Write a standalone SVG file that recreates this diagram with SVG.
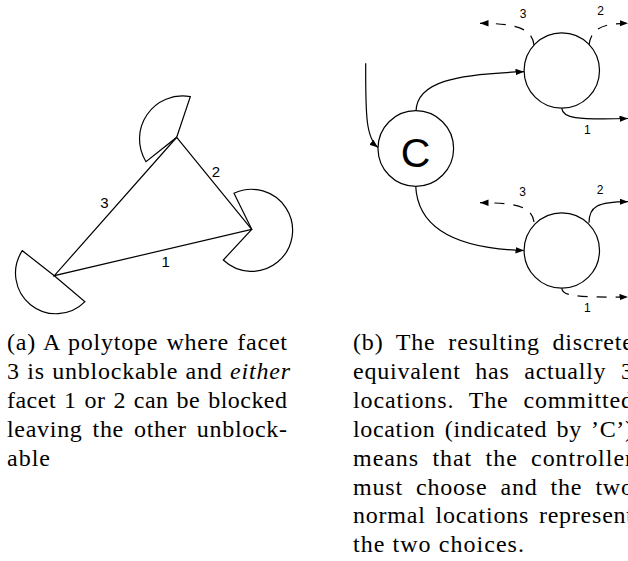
<svg xmlns="http://www.w3.org/2000/svg" width="628" height="561" viewBox="0 0 628 561">
<style>
.ln{fill:none;stroke:#000;stroke-width:1.2}
.wedge{fill:#fff;stroke:#000;stroke-width:1.2}
.node{fill:#fff;stroke:#000;stroke-width:1.2}
.dash{stroke-dasharray:10 9}
.lbl{font-family:"Liberation Sans",Arial,sans-serif;fill:#000;text-anchor:middle}
.cap{font-family:"Liberation Serif","Times New Roman",serif;font-size:24px;fill:#000}
</style>
<defs>
<marker id="arr" markerWidth="9" markerHeight="7" refX="8.5" refY="3.2" orient="auto" markerUnits="userSpaceOnUse">
<path d="M0,0 L8.5,3.2 L0,6.4 z" fill="#000" stroke="none"/>
</marker>
</defs>

<g id="polytope">
<g id="wedge-top"><path class="wedge" d="M176.7,137.3 L190.3,96.7 A43 43 0 0 0 146,161.7 Z"/></g>
<g id="wedge-right"><path class="wedge" d="M251.7,229.3 L234,193.3 A41 41 0 1 1 223.3,260 Z"/></g>
<g id="wedge-left"><path class="wedge" d="M54.3,275.7 L22.3,250.7 A40.6 40.6 0 0 0 85,301.7 Z"/></g>
<g id="facets">
<path class="ln" d="M176.7,137.3 L251.7,229.3 L54.3,275.7 Z"/>
<text class="lbl" x="216" y="177" font-size="15">2</text>
<text class="lbl" x="104.3" y="208" font-size="15">3</text>
<text class="lbl" x="165.7" y="267" font-size="15">1</text>
</g>
</g>

<g id="connectors">
<path class="ln" marker-end="url(#arr)" d="M365.7,63.3 C365.5,115 366,138 378,147.5"/>
<path class="ln" marker-end="url(#arr)" d="M416,111 C417,82 455,74 524,71.7"/>
<path class="ln" marker-end="url(#arr)" d="M415.7,186 C418,235 470,249 524,250.5"/>
<path class="ln dash" marker-end="url(#arr)" d="M534,45 C532,30 520,23.3 480,23.3"/>
<path class="ln dash" marker-end="url(#arr)" d="M589,45 C591,30 600,23.3 628,23.3"/>
<path class="ln" marker-end="url(#arr)" d="M561.7,108.3 C563,118 575,120 628,118.5"/>
<path class="ln dash" marker-end="url(#arr)" d="M534,222 C532,208 520,202.7 480,202.7"/>
<path class="ln" marker-end="url(#arr)" d="M589,222.7 C589,207 597,201.7 628,201.7"/>
<path class="ln dash" marker-end="url(#arr)" d="M561.7,288.3 C563,296 575,297.5 628,297"/>
<text class="lbl" x="523" y="18.3" font-size="12">3</text>
<text class="lbl" x="600.5" y="15.2" font-size="12">2</text>
<text class="lbl" x="587.3" y="133.6" font-size="12">1</text>
<text class="lbl" x="522.7" y="196" font-size="12">3</text>
<text class="lbl" x="600" y="193.6" font-size="12">2</text>
<text class="lbl" x="587.3" y="311.6" font-size="12">1</text>
</g>

<g id="node-C">
<circle class="node" cx="415.8" cy="148.5" r="37.8"/>
<text class="lbl" x="415.5" y="167.3" font-size="41">C</text>
</g>
<g id="node-top">
<circle class="node" cx="561.8" cy="70.5" r="37.7"/>
</g>
<g id="node-bottom">
<circle class="node" cx="561.8" cy="250.5" r="37.7"/>
</g>

<g id="caption-a">
<text class="cap" x="7" y="350" textLength="280" lengthAdjust="spacing" style="word-spacing:1.5px">(a) A polytope where facet</text>
<text class="cap" x="7" y="378.9" textLength="283" lengthAdjust="spacing" style="word-spacing:0.6px">3 is unblockable and <tspan font-style="italic">either</tspan></text>
<text class="cap" x="7" y="407.8" textLength="280" lengthAdjust="spacing" style="word-spacing:1.5px">facet 1 or 2 can be blocked</text>
<text class="cap" x="7" y="436.7" textLength="280" lengthAdjust="spacing" style="word-spacing:3.3px">leaving the other unblock-</text>
<text class="cap" x="7" y="465.6" textLength="43" lengthAdjust="spacing">able</text>
</g>

<g id="caption-b">
<text class="cap" x="353" y="350" textLength="280" lengthAdjust="spacing" style="word-spacing:5.9px">(b) The resulting discrete</text>
<text class="cap" x="353" y="378.9" textLength="280" lengthAdjust="spacing" style="word-spacing:7.9px">equivalent has actually 3</text>
<text class="cap" x="353" y="407.8" textLength="280" lengthAdjust="spacing" style="word-spacing:8px">locations. The committed</text>
<text class="cap" x="353" y="436.7" textLength="280" lengthAdjust="spacing" style="word-spacing:2.6px">location (indicated by ’C’)</text>
<text class="cap" x="353" y="465.6" textLength="280" lengthAdjust="spacing" style="word-spacing:6.3px">means that the controller</text>
<text class="cap" x="353" y="494.5" textLength="280" lengthAdjust="spacing" style="word-spacing:6.3px">must choose and the two</text>
<text class="cap" x="353" y="523.4" textLength="280" lengthAdjust="spacing" style="word-spacing:3.1px">normal locations represent</text>
<text class="cap" x="353" y="552.3" textLength="171" lengthAdjust="spacing">the two choices.</text>
</g>
</svg>
